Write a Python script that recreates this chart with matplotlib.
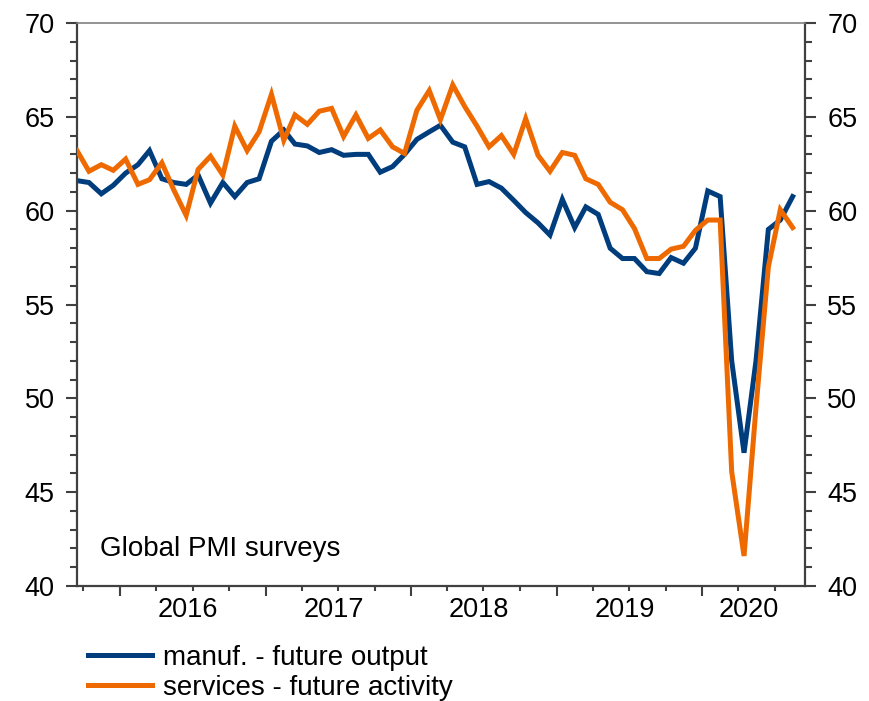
import numpy as np
import pandas as pd
import matplotlib
matplotlib.use("Agg")
import matplotlib.pyplot as plt
import matplotlib.dates as mdates
from matplotlib.ticker import MultipleLocator, NullFormatter

BLUE, ORANGE = "#003D7C", "#EE6A00"
SPINE = "#404040"

plt.rcParams.update({
    "font.family": ["Liberation Sans", "DejaVu Sans"],
    "font.size": 20,
})

# monthly readings, Sep 2015 .. Aug 2020, plotted mid-month
months = pd.date_range("2015-09-01", "2020-08-01", freq="MS") + pd.Timedelta(days=14)

manuf = [61.6, 61.5, 60.9, 61.35, 62.0, 62.45, 63.2, 61.7, 61.5, 61.4,
         61.9, 60.4, 61.5, 60.75, 61.5, 61.7, 63.7, 64.3, 63.55, 63.45,
         63.1, 63.25, 62.95, 63.0, 63.0, 62.05, 62.35, 63.0, 63.8, 64.2,
         64.55, 63.65, 63.4, 61.4, 61.55, 61.2, 60.55, 59.9, 59.35, 58.7,
         60.6, 59.1, 60.2, 59.8, 58.0, 57.45, 57.45, 56.75, 56.65, 57.5,
         57.2, 58.0, 61.05, 60.75, 52.0, 47.1, 52.0, 59.0, 59.5, 60.75]

services = [63.2, 62.1, 62.45, 62.15, 62.75, 61.4, 61.65, 62.55, 61.1, 59.75,
            62.2, 62.9, 61.9, 64.5, 63.2, 64.2, 66.2, 63.75, 65.1, 64.6,
            65.3, 65.45, 63.95, 65.1, 63.85, 64.3, 63.4, 63.05, 65.35, 66.4,
            64.85, 66.7, 65.55, 64.5, 63.4, 64.0, 63.0, 64.9, 62.95, 62.1,
            63.1, 62.95, 61.7, 61.4, 60.45, 60.05, 59.05, 57.45, 57.45, 57.95,
            58.1, 58.95, 59.5, 59.5, 46.1, 41.6, 49.5, 57.0, 60.05, 59.1]

years = [2016, 2017, 2018, 2019, 2020]

fig = plt.figure(figsize=(8.69, 7.01), dpi=100)
ax = fig.add_axes([77 / 869, 1 - 586 / 701, 728 / 869, 563 / 701])

ax.plot(months, manuf, color=BLUE, lw=3.6, solid_joinstyle="miter",
        label="manuf. - future output", zorder=2)
ax.plot(months, services, color=ORANGE, lw=3.6, solid_joinstyle="miter",
        label="services - future activity", zorder=3)

x0 = pd.Timestamp("2015-09-15")
x1 = pd.Timestamp("2020-09-15")
ax.set_xlim(x0, x1)
ax.set_ylim(40, 70)

ax.yaxis.set_major_locator(MultipleLocator(5))
ax.yaxis.set_minor_locator(MultipleLocator(1))
ax.tick_params(axis="y", which="both", left=True, right=True,
               labelleft=True, labelright=True, direction="out",
               color=SPINE, width=1.5, labelsize=19.5, pad=8)
ax.tick_params(axis="y", which="major", length=8)
ax.tick_params(axis="y", which="minor", length=5)

ax.xaxis.set_major_locator(mdates.YearLocator())
ax.xaxis.set_minor_locator(mdates.MonthLocator(bymonth=[1, 4, 7, 10]))
ax.xaxis.set_major_formatter(NullFormatter())
ax.tick_params(axis="x", which="both", direction="out", color=SPINE, width=1.5)
ax.tick_params(axis="x", which="major", length=7)
ax.tick_params(axis="x", which="minor", length=3.5)

# year labels centred on the visible part of each year
for yr in years:
    a = max(pd.Timestamp(f"{yr}-01-01"), x0)
    b = min(pd.Timestamp(f"{yr + 1}-01-01"), x1)
    mid = mdates.date2num(a) + (mdates.date2num(b) - mdates.date2num(a)) / 2 - 12
    ax.annotate(str(yr), xy=(mid, 0), xycoords=ax.get_xaxis_transform(),
                xytext=(0, -8), textcoords="offset points",
                ha="center", va="top", fontsize=19.5)

for side in ("left", "bottom", "right"):
    ax.spines[side].set_color(SPINE)
    ax.spines[side].set_linewidth(1.6)
ax.spines["top"].set_color("#808080")
ax.spines["top"].set_linewidth(1.2)

ax.text(0.0316, 0.0533, "Global PMI surveys", transform=ax.transAxes,
        ha="left", va="baseline", fontsize=20)

fig.legend(loc="upper left", bbox_to_anchor=(88 / 869, 1 - 645 / 701),
           frameon=False, borderpad=0, borderaxespad=0, handlelength=2.3,
           handletextpad=0.4, labelspacing=0.15, fontsize=20)

fig.savefig("out.png", dpi=100)
